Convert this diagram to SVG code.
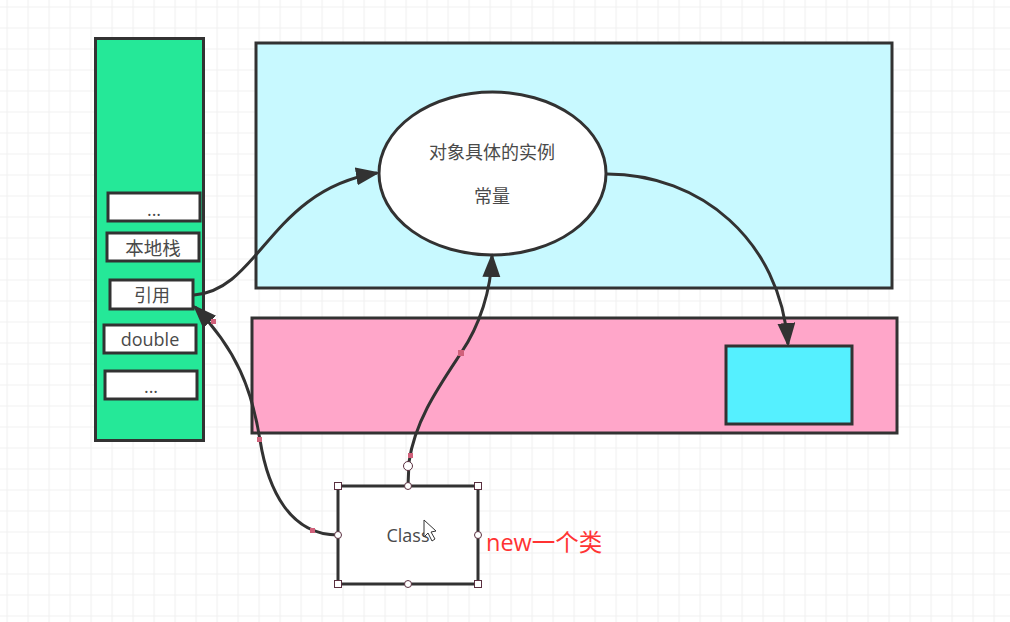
<svg xmlns="http://www.w3.org/2000/svg" width="1010" height="622" viewBox="0 0 1010 622">
<style>
.n{stroke:#323232;stroke-width:3}
.w{fill:#fff}
.t{font-family:"Open Sans","Noto Sans CJK SC",sans-serif;font-size:18px;fill:#4a4a4a;text-anchor:middle}
.c{fill:none;stroke:#323232;stroke-width:3}
.h{fill:#fff;stroke:#5a3040;stroke-width:1}
.d{fill:#d0607a}
</style>
<defs>
<pattern id="g" width="21" height="21" patternUnits="userSpaceOnUse" x="-14.5" y="6.5">
<path d="M21 0H0V21" fill="none" stroke="#f0f0f0" stroke-width="1.2" transform="translate(0.5 0.5)"/>
</pattern>
<marker id="a" markerUnits="userSpaceOnUse" markerWidth="26" markerHeight="22" refX="21" refY="9" orient="auto"><path d="M0 0L24 9L0 18Z" fill="#323232"/></marker>
</defs>
<rect width="1010" height="622" fill="#fff"/>
<rect width="1010" height="622" fill="url(#g)"/>
<g id="stack"><rect class="n" x="95.500" y="38.500" width="108" height="402" fill="#25e898"/></g>
<g id="heap"><rect class="n" x="256" y="43" width="636" height="245" fill="#c8f9ff"/></g>
<g id="method"><rect class="n" x="252" y="318" width="645" height="115" fill="#ffa6c9"/></g>
<g id="pool"><rect class="n" x="726" y="346" width="126" height="78" fill="#55f0ff"/></g>
<g id="instance"><ellipse class="n w" cx="492.500" cy="173.500" rx="113.500" ry="81.500"/><text class="t" x="492" y="159">对象具体的实例</text><text class="t" x="492" y="203">常量</text></g>
<g id="s1"><rect class="n w" x="108" y="193" width="92" height="28"/><text class="t" x="154" y="216">...</text></g>
<g id="s2"><rect class="n w" x="107" y="233" width="92" height="28"/><text class="t" x="153" y="255" style="font-size:18.500px">本地栈</text></g>
<g id="s3"><rect class="n w" x="110" y="280" width="83" height="29"/><text class="t" x="152" y="302">引用</text></g>
<g id="s4"><rect class="n w" x="104" y="325" width="92" height="28"/><text class="t" x="150" y="346">double</text></g>
<g id="s5"><rect class="n w" x="105" y="371" width="92" height="28"/><text class="t" x="151" y="393">...</text></g>
<g id="class"><rect class="n w" x="338" y="486" width="140" height="98"/><text class="t" x="408" y="542">Class</text></g>
<g id="connectors">
<path class="c" marker-end="url(#a)" d="M194 295C260 290 270 190 377 173"/>
<path class="c" marker-end="url(#a)" d="M607 174C700 174 780 240 788 344"/>
<path class="c" marker-end="url(#a)" d="M408 486L409 462C415 420 440 385 461 353C480 325 491 290 492 256"/>
<path class="c" marker-end="url(#a)" d="M338 535C290 535 268 490 260 440C252 390 237 350 195 307"/>
</g>
<g id="handles">
<rect class="d" x="408" y="453" width="5" height="5"/><rect class="d" x="458" y="350" width="6" height="6"/><rect class="d" x="310" y="528" width="5" height="5"/><rect class="d" x="257" y="437" width="5" height="5"/><rect class="d" x="211" y="319" width="5" height="5"/>
<circle class="h" cx="408" cy="466" r="4.500"/>
<circle class="h" cx="408" cy="486" r="3.500"/><circle class="h" cx="408" cy="584" r="3.500"/><circle class="h" cx="338" cy="535" r="3.500"/><circle class="h" cx="478" cy="535" r="3.500"/>
<rect class="h" x="334.500" y="482.500" width="7" height="7"/><rect class="h" x="474.500" y="482.500" width="7" height="7"/><rect class="h" x="334.500" y="580.500" width="7" height="7"/><rect class="h" x="474.500" y="580.500" width="7" height="7"/>
</g>
<path id="cursor" d="M424 520V537L428 533L432 541L435 539L431 532L436 531Z" fill="#fff" stroke="#333"/>
<text x="486" y="551" font-family="Open Sans,Noto Sans CJK SC,sans-serif" font-size="23.500" fill="#ff3333">new一个类</text>
</svg>
